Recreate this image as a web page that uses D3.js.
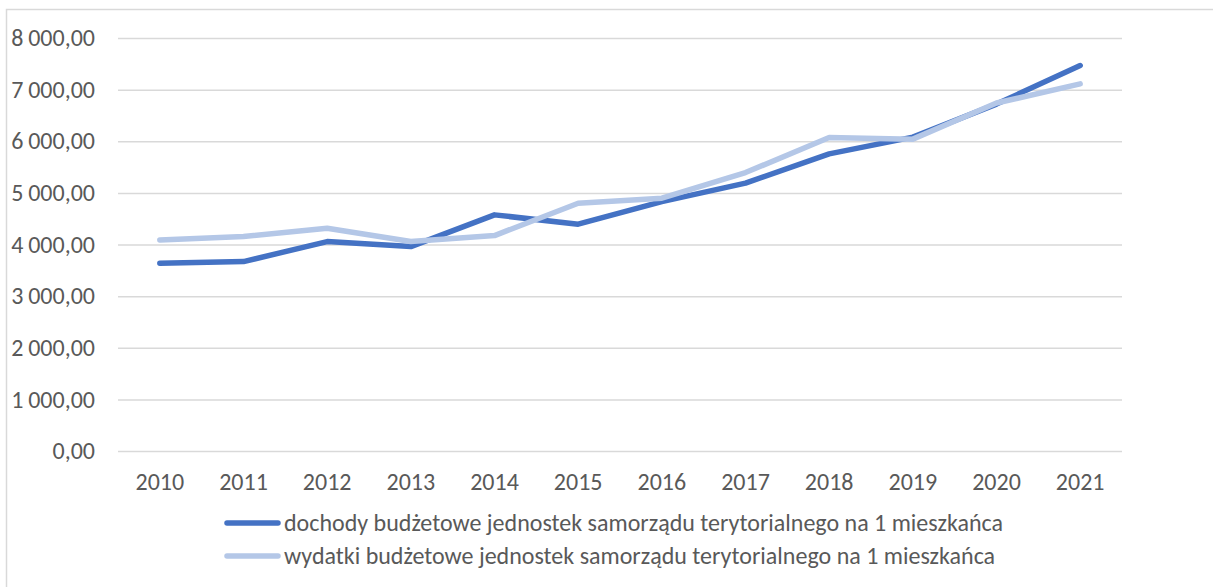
<!DOCTYPE html>
<html>
<head>
<meta charset="utf-8">
<script src="https://cdn.jsdelivr.net/npm/d3@7"></script>
<style>
  body { margin: 0; background: #fff; }
  text { font-family: Carlito, Lato, "Open Sans", sans-serif; fill: #595959; }
</style>
</head>
<body>
<div id="chart"></div>
<script>
"use strict";

// Data
const years = ["2010", "2011", "2012", "2013", "2014", "2015", "2016", "2017", "2018", "2019", "2020", "2021"];
const dochody = [3638, 3669, 4057, 3959, 4574, 4393, 4831, 5188, 5756, 6079, 6720, 7467];
const wydatki = [4089, 4153, 4316, 4057, 4173, 4800, 4897, 5393, 6072, 6041, 6740, 7112];
const seriesNames = [
  "dochody budżetowe jednostek samorządu terytorialnego na 1 mieszkańca",
  "wydatki budżetowe jednostek samorządu terytorialnego na 1 mieszkańca"
];
const yTicks = [0, 1000, 2000, 3000, 4000, 5000, 6000, 7000, 8000];

const width = 1213;
const height = 587;
const colors = ["#4472C4", "#B4C7E7"];
const fontSize = "24px";

const plot = { left: 118, right: 1122, top: 38, bottom: 451 };

const svg = d3.select("#chart")
  .append("svg")
  .attr("width", width)
  .attr("height", height);

// Chart area border
svg.append("rect")
  .attr("x", 6.5)
  .attr("y", 9.5)
  .attr("width", width + 10)
  .attr("height", height + 10)
  .attr("fill", "none")
  .attr("stroke", "#d9d9d9")
  .attr("stroke-width", 1.5);

const x = d3.scaleBand()
  .domain(years)
  .range([plot.left, plot.right]);

const y = d3.scaleLinear()
  .domain([0, 8000])
  .range([plot.bottom, plot.top]);

// Polish number format: "8 000,00"
const fmt = d => d3.format(",.2f")(d).replace(/,/g, "\u2009").replace(".", ",");

// Gridlines + y labels
const yAxis = d3.axisLeft(y)
  .tickValues(yTicks)
  .tickSize(-(plot.right - plot.left))
  .tickPadding(23)
  .tickFormat(fmt);

svg.append("g")
  .attr("transform", `translate(${plot.left},0)`)
  .call(yAxis)
  .call(g => g.select(".domain").remove())
  .call(g => g.selectAll(".tick line").attr("stroke", "#d9d9d9").attr("stroke-width", 1.5))
  .call(g => g.selectAll(".tick text")
    .attr("fill", "#595959")
    .style("font-size", fontSize)
    .style("font-family", "Carlito, Lato, sans-serif"));

// x labels
const xAxis = d3.axisBottom(x).tickSize(0).tickPadding(22);
svg.append("g")
  .attr("transform", `translate(0,${plot.bottom})`)
  .call(xAxis)
  .call(g => g.select(".domain").remove())
  .call(g => g.selectAll(".tick text")
    .attr("fill", "#595959")
    .style("font-size", fontSize)
    .style("font-family", "Carlito, Lato, sans-serif"));

// Lines
const line = d3.line()
  .x((d, i) => x(years[i]) + x.bandwidth() / 2)
  .y(d => y(d));

[dochody, wydatki].forEach((values, i) => {
  svg.append("path")
    .datum(values)
    .attr("d", line)
    .attr("fill", "none")
    .attr("stroke", colors[i])
    .attr("stroke-width", 5.5)
    .attr("stroke-linejoin", "round")
    .attr("stroke-linecap", "round");
});

// Legend
const legend = svg.append("g");
seriesNames.forEach((name, i) => {
  const ly = 523 + i * 33;
  legend.append("line")
    .attr("x1", 227).attr("x2", 278)
    .attr("y1", ly).attr("y2", ly)
    .attr("stroke", colors[i])
    .attr("stroke-width", 5.5)
    .attr("stroke-linecap", "round");
  legend.append("text")
    .attr("x", 284)
    .attr("y", ly)
    .attr("dy", "0.35em")
    .style("font-size", fontSize)
    .text(name);
});
</script>
</body>
</html>
